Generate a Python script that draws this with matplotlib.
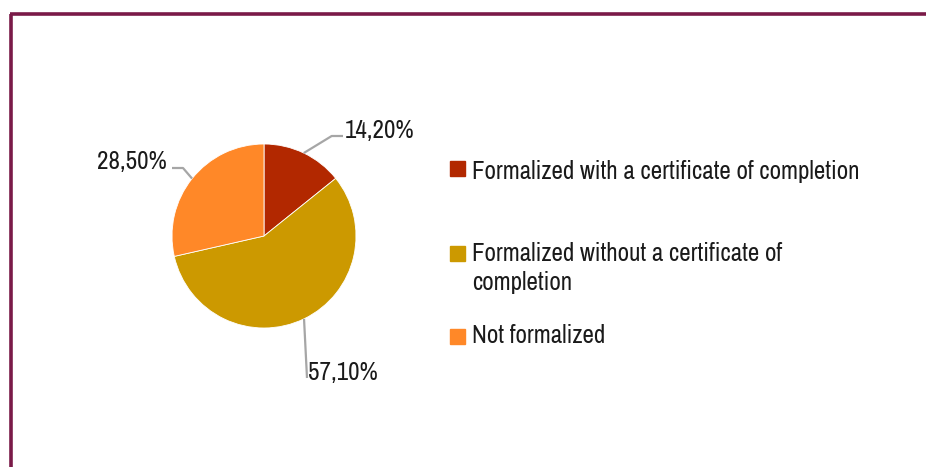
import matplotlib

matplotlib.use("Agg")
import matplotlib.pyplot as plt
import numpy as np
from matplotlib.patches import Rectangle
from matplotlib.lines import Line2D

# narrow face like the original; DejaVu condensed as fallback
plt.rcParams["font.family"] = ["Archivo Narrow", "DejaVu Sans"]
plt.rcParams["font.stretch"] = "condensed"

categories = [
    "Formalized with a certificate of completion",
    "Formalized without a certificate of\ncompletion",
    "Not formalized",
]
shares = [14.2, 57.1, 28.5]
share_labels = ["14,20%", "57,10%", "28,50%"]
colors = ["#B22800", "#CC9900", "#FF8828"]

W, H = 926, 467
FS = 18
fig = plt.figure(figsize=(W / 100, H / 100), dpi=100)

# pie axes: radius 1 == 92 px, centred at (264, 236) px from top-left
cx, cy, r = 264, 236, 92
ax = fig.add_axes([(cx - r) / W, (H - cy - r) / H, 2 * r / W, 2 * r / H])
wedges, _ = ax.pie(shares, colors=colors, startangle=90, counterclock=False,
                   wedgeprops=dict(linewidth=0.6, edgecolor="white"))
ax.set_xlim(-1, 1)
ax.set_ylim(-1, 1)
ax.set_aspect("auto")
ax.axis("off")


def px(x, y):
    # pixel position (from top-left) -> pie units
    return (x - cx) / r, (cy - y) / r


# leader line bend/end and label baseline anchor, in pixels
label_layout = [
    dict(bend=(331.7, 136), end=(343, 136), text=(345, 138), ha="left"),
    dict(bend=(307, 378), end=(307, 378), text=(308, 380), ha="left"),
    dict(bend=(183, 168), end=(172, 168), text=(167, 169), ha="right"),
]
for w, lab, lay in zip(wedges, share_labels, label_layout):
    mid = np.deg2rad((w.theta1 + w.theta2) / 2)
    b, e, t = px(*lay["bend"]), px(*lay["end"]), px(*lay["text"])
    ax.plot([np.cos(mid), b[0], e[0]], [np.sin(mid), b[1], e[1]], color="#A6A6A6",
            lw=1.6, clip_on=False, solid_capstyle="butt")
    ax.text(t[0], t[1], lab, ha=lay["ha"], va="baseline",
            fontsize=FS, color="#1a1a1a", clip_on=False)

# legend drawn by hand (pixel layout): square centre and last-line baseline
leg_sq = [168.5, 253, 336]
leg_base = [179, 290, 343]
for cat, col, ys, yb in zip(categories, colors, leg_sq, leg_base):
    fig.patches.append(Rectangle((450 / W, (H - ys - 7.5) / H), 15 / W, 15 / H,
                                 transform=fig.transFigure, color=col))
    fig.text(472 / W, (H - yb) / H, cat, ha="left", va="baseline",
             fontsize=FS, color="#1a1a1a", linespacing=1.34)

# frame on the left and top
fig.add_artist(Line2D([11 / W, 11 / W], [0, (H - 13.5) / H], color="#7A1A48", lw=2.6,
                      transform=fig.transFigure, solid_capstyle="butt"))
fig.add_artist(Line2D([9.7 / W, 1], [(H - 13.5) / H, (H - 13.5) / H], color="#7A1A48",
                      lw=2.6, transform=fig.transFigure, solid_capstyle="butt"))

fig.savefig("out.png", dpi=100)
